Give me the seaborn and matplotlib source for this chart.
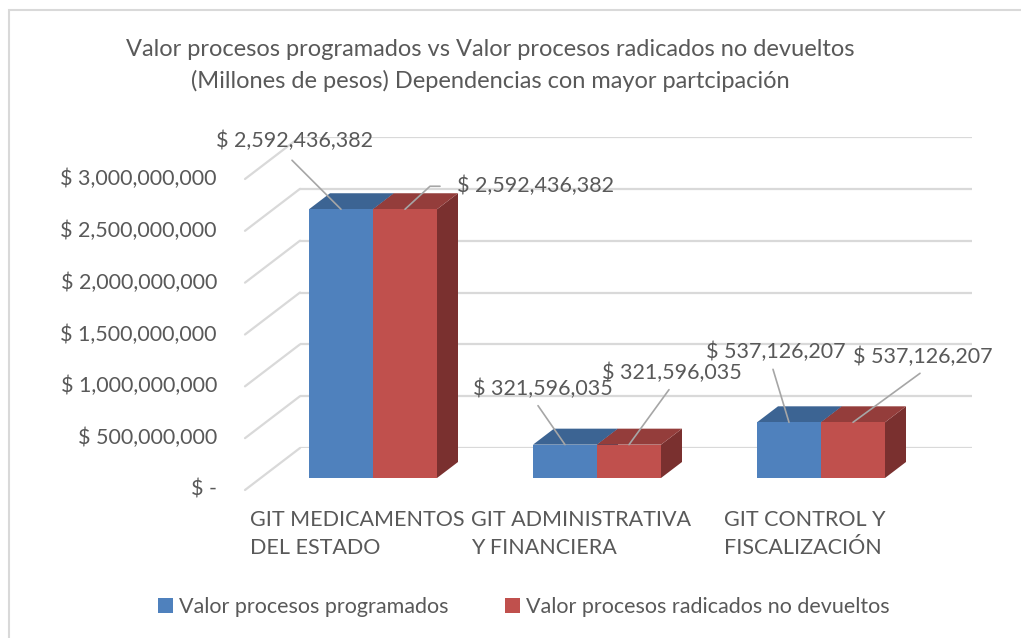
import pandas as pd
import seaborn as sns
import matplotlib.pyplot as plt
from matplotlib.patches import Polygon, Patch, Rectangle
from matplotlib.transforms import Affine2D, ScaledTranslation

# data
dependencias = ['GIT MEDICAMENTOS\nDEL ESTADO',
                'GIT ADMINISTRATIVA\nY FINANCIERA',
                'GIT CONTROL Y\nFISCALIZACIÓN']
series = ['Valor procesos programados', 'Valor procesos radicados no devueltos']
programados = [2592436382, 321596035, 537126207]
radicados = [2592436382, 321596035, 537126207]
y_ticks = [0, 500000000, 1000000000, 1500000000, 2000000000, 2500000000, 3000000000]
y_tick_labels = ['$ -', '$ 500,000,000', '$ 1,000,000,000', '$ 1,500,000,000',
                 '$ 2,000,000,000', '$ 2,500,000,000', '$ 3,000,000,000']
title = ('Valor procesos programados vs Valor procesos radicados no devueltos\n'
         '(Millones de pesos) Dependencias con mayor partcipación')

FRONT = ['#4F81BD', '#C0504D']
TOP = ['#3C6493', '#943D3B']
SIDE = ['#2E4E75', '#7A302F']
TEXT = '#595959'
GRID = '#D9D9D9'
LEADER = '#A6A6A6'
FONT = 'Lato'
FS = 15.5
DPI = 100

# label placement per bar, in pixels from the front-top centre: (text offset, ha, leader points)
label_style = [
    [((-46, 68), 'center', [(0, 0), (-49, 49)]),
     ((-22, 56), 'center', [(0, 0), (-27, 39)]),
     ((-13, 70), 'center', [(0, 0), (-16, 53)])],
    [((52, 23), 'left', [(0, 0), (25, 23), (35, 23)]),
     ((43, 72), 'center', [(0, 0), (40, 55)]),
     ((70, 65), 'center', [(0, 0), (67, 49)])],
]


def pixel_frame(fig, x, v, trans):
    # coordinates in pixels around the point (x, v) of the given transform
    return Affine2D().scale(1 / DPI) + fig.dpi_scale_trans + ScaledTranslation(x, v, trans)


def main():
    df = pd.DataFrame({
        'dependencia': dependencias * 2,
        'serie': [series[0]] * 3 + [series[1]] * 3,
        'valor': programados + radicados,
    })

    sns.set_style('white')
    plt.rcParams['font.family'] = [FONT, 'DejaVu Sans']

    fig = plt.figure(figsize=(10.21, 6.38), dpi=DPI)
    # axes = back wall of the 3D chart
    ax = fig.add_axes([300 / 1021, 190 / 638, 672 / 1021, 311 / 638])

    sns.barplot(data=df, x='dependencia', y='valor', hue='serie',
                palette=FRONT, saturation=1, width=128 / 224,
                edgecolor='none', linewidth=0, legend=False, ax=ax)
    ax.set_xlim(-0.5, 2.5)
    ax.set_ylim(0, 3000000000)
    ax.set_xlabel('')
    ax.set_ylabel('')
    ax.set_xticks([])
    ax.set_yticks(y_ticks)
    ax.set_yticklabels([])
    ax.tick_params(length=0)
    ax.yaxis.grid(True, color=GRID, linewidth=1.6)
    ax.set_axisbelow(True)
    for spine in ax.spines.values():
        spine.set_visible(False)

    px = 1 / DPI
    front_trans = ax.transData + ScaledTranslation(-39 * px, -30 * px, fig.dpi_scale_trans)
    inv = ax.transData.inverted()
    p0 = inv.transform((0, 0))
    p1 = inv.transform((21, 16))
    depth_x, depth_y = p1[0] - p0[0], p1[1] - p0[1]

    # bars -> front faces plus top and side faces
    bars = list(ax.patches)
    for i, bar in enumerate(bars):
        s = 0 if i < 3 else 1
        bar.set_transform(front_trans)
        bar.set_clip_on(False)
        bar.set_zorder(4)
        xl = bar.get_x()
        xr = xl + bar.get_width()
        h = bar.get_height()
        top = Polygon([(xl, h), (xr, h), (xr + depth_x, h + depth_y), (xl + depth_x, h + depth_y)],
                      closed=True, facecolor=TOP[s], edgecolor='none',
                      transform=front_trans, clip_on=False, zorder=3)
        side = Polygon([(xr, 0), (xr + depth_x, depth_y), (xr + depth_x, h + depth_y), (xr, h)],
                       closed=True, facecolor=SIDE[s], edgecolor='none',
                       transform=front_trans, clip_on=False, zorder=3)
        ax.add_patch(side)
        ax.add_patch(top)

        k = i % 3
        (tx, ty), ha, pts = label_style[s][k]
        xc = xl + bar.get_width() / 2
        frame = pixel_frame(fig, xc, h, front_trans)
        ax.plot([p[0] for p in pts], [p[1] for p in pts], color=LEADER,
                linewidth=1.2, transform=frame, clip_on=False, zorder=6)
        ax.text(tx, ty, f'$ {h:,.0f}', transform=frame, ha=ha, va='center',
                fontsize=FS, color=TEXT, clip_on=False, zorder=7)

    # side wall diagonals and value labels
    wall = ax.get_yaxis_transform()
    for v, lab in zip(y_ticks, y_tick_labels):
        frame = pixel_frame(fig, 0, v, wall)
        ax.plot([0, -55], [0, -42], color=GRID, linewidth=1.6,
                transform=frame, clip_on=False, zorder=1)
        ax.text(-83, -42, lab, transform=frame, ha='right', va='center',
                fontsize=FS, color=TEXT, clip_on=False)

    # category labels on the floor edge
    for k, dep in enumerate(dependencias):
        frame = pixel_frame(fig, k, 0, ax.transData)
        ax.text(-55, -62, dep, transform=frame, ha='center', va='top',
                multialignment='left', linespacing=1.5,
                fontsize=FS, color=TEXT, clip_on=False)

    fig.text(0.48, 1 - 65.5 / 638, title, ha='center', va='center',
             fontsize=17, color=TEXT, linespacing=1.5)

    handles = [Patch(facecolor=FRONT[0], edgecolor='none'),
               Patch(facecolor=FRONT[1], edgecolor='none')]
    fig.legend(handles, series, loc='center', bbox_to_anchor=(524 / 1021, 31 / 638),
               ncol=2, frameon=False, fontsize=FS, labelcolor=TEXT,
               handlelength=0.7, handleheight=0.7, handletextpad=0.3,
               columnspacing=2.6)

    # chart border
    fig.patches.append(Rectangle((9 / 1021, -0.05), 1.1, 1 - 10 / 638 + 0.05,
                                 transform=fig.transFigure, fill=False,
                                 edgecolor='#D9D9D9', linewidth=1.5))

    fig.savefig('out.png', dpi=DPI, facecolor='white')
    plt.close(fig)


if __name__ == '__main__':
    main()
